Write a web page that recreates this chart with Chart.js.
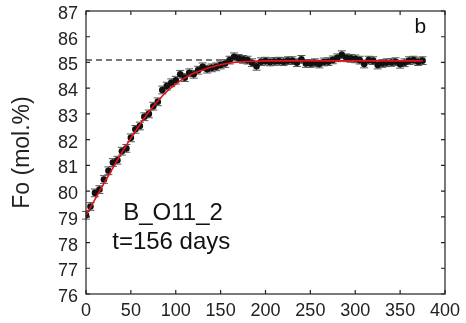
<!DOCTYPE html>
<html>
<head>
<meta charset="utf-8">
<script src="https://cdn.jsdelivr.net/npm/chart.js@4"></script>
<style>
  html, body { margin: 0; padding: 0; background: #fff; }
  #wrap { width: 466px; height: 323px; }
</style>
</head>
<body>
<div id="wrap"><canvas id="fo"></canvas></div>
<script>
// measured Fo content, one point every 5 days
let days = [0,5,10,15,20,25,30,35,40,45,50,55,60,65,70,75,80,85,90,95,
  100,105,110,115,120,125,130,135,140,145,150,155,160,165,170,175,180,185,190,195,
  200,205,210,215,220,225,230,235,240,245,250,255,260,265,270,275,280,285,290,295,
  300,305,310,315,320,325,330,335,340,345,350,355,360,365,370,375];
let fo = [79.06,79.40,79.93,80.06,80.45,80.79,81.11,81.20,81.55,81.66,82.07,82.40,82.53,82.89,83.00,83.30,83.47,83.93,84.08,84.21,
  84.31,84.54,84.41,84.60,84.54,84.70,84.83,84.74,84.79,84.83,84.90,84.96,85.09,85.22,85.16,85.12,85.09,84.99,84.85,85.03,
  85.05,85.02,85.04,85.05,85.03,85.07,85.07,84.99,85.12,84.96,84.96,84.99,84.94,85.02,85.03,85.10,85.18,85.30,85.18,85.16,
  85.14,85.09,84.94,85.09,85.07,84.90,84.96,84.99,85.00,85.03,84.93,84.99,85.07,85.09,85.03,85.07];
let foErr = 0.15;

// model curve (red)
let fitDays = [0,10,20,30,40,50,60,70,80,90,100,110,120,130,140,150,160,170,180,200,250,300,375];
let fitFo = [79.06,79.68,80.30,80.90,81.50,82.06,82.58,83.07,83.50,83.87,84.16,84.40,84.58,84.71,84.82,84.91,84.98,85.02,85.04,85.06,85.06,85.06,85.06];

// equilibrium level (dashed)
let eqDays = [0,157];
let eqFo = [85.1,85.1];

let xTicks = [0,50,100,150,200,250,300,350,400];
let yTicks = [76,77,78,79,80,81,82,83,84,85,86,87];

let sample = "B_O11_2";
let duration = "t=156 days";
let panel = "b";

let toXY = (xs, ys) => xs.map((x, i) => ({ x: x, y: ys[i] }));

// error bars, inward ticks on all four sides, text labels
let extras = {
  id: "extras",
  beforeDatasetsDraw(chart) {
    let c = chart.ctx, xs = chart.scales.x, ys = chart.scales.y;
    c.save();
    c.strokeStyle = "#555";
    c.lineWidth = 1;
    days.forEach((d, i) => {
      let px = xs.getPixelForValue(d);
      let lo = ys.getPixelForValue(fo[i] - foErr);
      let hi = ys.getPixelForValue(fo[i] + foErr);
      c.beginPath();
      c.moveTo(px, lo); c.lineTo(px, hi);
      c.moveTo(px - 4, lo); c.lineTo(px + 4, lo);
      c.moveTo(px - 4, hi); c.lineTo(px + 4, hi);
      c.stroke();
    });
    c.restore();
  },
  afterDraw(chart) {
    let c = chart.ctx, a = chart.chartArea, xs = chart.scales.x, ys = chart.scales.y;
    c.save();
    c.strokeStyle = "#222";
    c.lineWidth = 1.2;
    c.strokeRect(a.left, a.top, a.right - a.left, a.bottom - a.top);
    c.beginPath();
    xTicks.forEach(t => {
      let px = xs.getPixelForValue(t);
      c.moveTo(px, a.bottom); c.lineTo(px, a.bottom - 4);
      c.moveTo(px, a.top); c.lineTo(px, a.top + 4);
    });
    yTicks.forEach(t => {
      let py = ys.getPixelForValue(t);
      c.moveTo(a.left, py); c.lineTo(a.left + 4, py);
      c.moveTo(a.right, py); c.lineTo(a.right - 4, py);
    });
    c.stroke();

    c.fillStyle = "#111";
    c.font = "24px 'Liberation Sans', Arial, sans-serif";
    c.textAlign = "center";
    c.textBaseline = "alphabetic";
    c.fillText(sample, xs.getPixelForValue(97), ys.getPixelForValue(78.88));
    c.fillText(duration, xs.getPixelForValue(95), ys.getPixelForValue(77.75));
    c.font = "21px 'Liberation Sans', Arial, sans-serif";
    c.textAlign = "left";
    c.fillText(panel, xs.getPixelForValue(366), ys.getPixelForValue(86.15));
    c.restore();
  }
};

let ctx = document.getElementById("fo");
let myChart = new Chart(ctx, {
  type: "scatter",
  data: {
    datasets: [
      {
        label: "eq",
        data: toXY(eqDays, eqFo),
        showLine: true,
        borderColor: "#777",
        borderWidth: 2,
        borderDash: [6, 4],
        pointRadius: 0,
        order: 3,
      },
      {
        label: "Fo",
        data: toXY(days, fo),
        backgroundColor: "#111",
        borderColor: "#111",
        pointRadius: 3.3,
        pointBorderWidth: 0,
        order: 2,
      },
      {
        label: "fit",
        data: toXY(fitDays, fitFo),
        showLine: true,
        borderColor: "#e8101a",
        borderWidth: 1.6,
        pointRadius: 0,
        cubicInterpolationMode: "monotone",
        order: 1,
      },
    ],
  },
  options: {
    responsive: true,
    maintainAspectRatio: false,
    animation: false,
    layout: { padding: { top: 11, right: 21, left: 0, bottom: 0 } },
    plugins: {
      legend: { display: false },
      tooltip: { enabled: false },
    },
    scales: {
      x: {
        type: "linear",
        min: 0,
        max: 400,
        afterBuildTicks: s => { s.ticks = xTicks.map(v => ({ value: v })); },
        afterFit: s => { s.height = 29; s.paddingLeft = 0; s.paddingRight = 0; },
        grid: { display: false, drawTicks: false },
        border: { display: false },
        ticks: {
          color: "#222",
          padding: 6,
          maxRotation: 0,
          font: { family: "'Liberation Sans', Arial, sans-serif", size: 18 },
        },
      },
      y: {
        min: 76,
        max: 87,
        afterBuildTicks: s => { s.ticks = yTicks.map(v => ({ value: v })); },
        afterFit: s => { s.width = 86; s.paddingTop = 0; s.paddingBottom = 0; },
        grid: { display: false, drawTicks: false },
        border: { display: false },
        ticks: {
          color: "#222",
          padding: 8,
          labelOffset: 3,
          font: { family: "'Liberation Sans', Arial, sans-serif", size: 18 },
        },
        title: {
          display: true,
          text: "Fo (mol.%)",
          color: "#222",
          padding: { top: 9, bottom: 0 },
          font: { family: "'Liberation Sans', Arial, sans-serif", size: 23 },
        },
      },
    },
  },
  plugins: [extras],
});
</script>
</body>
</html>
